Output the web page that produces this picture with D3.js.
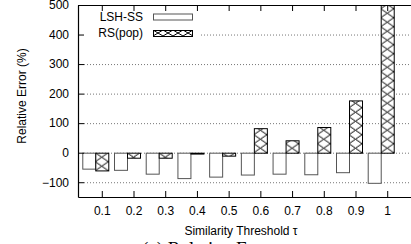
<!DOCTYPE html>
<html>
<head>
<meta charset="utf-8">
<script src="https://cdn.jsdelivr.net/npm/d3@7"></script>
<style>
  body { margin: 0; background: #fff; }
  svg text { font-family: "Liberation Sans", Arial, Helvetica, sans-serif; }
</style>
</head>
<body>
<div id="chart"></div>
<script>
// thresholds and the two series (relative error in %)
const thresholds = [0.1, 0.2, 0.3, 0.4, 0.5, 0.6, 0.7, 0.8, 0.9, 1];
const lshSS = [-54, -58, -71, -86, -81, -74, -71, -73, -66, -102];
const rsPop = [-60, -17, -17, -3, -10, 83, 42, 87, 177, 500];
const yTicks = [-100, 0, 100, 200, 300, 400, 500];
const seriesNames = ["LSH-SS", "RS(pop)"];

const W = 411, H = 244;
const margin = { top: 5, right: 0, bottom: 47, left: 78 };

const svg = d3.select("#chart")
  .append("svg")
  .attr("width", W)
  .attr("height", H);

const x = d3.scaleLinear()
  .domain([0.025, 1.075])
  .range([margin.left, W - margin.right]);

const y = d3.scaleLinear()
  .domain([-150, 500])
  .range([H - margin.bottom, margin.top]);

const barW = 13;
const defs = svg.append("defs");

// crosshatch pattern, one per bar so the X's line up with each bar
function hatch(id, px, py, w, h) {
  const p = defs.append("pattern")
    .attr("id", id)
    .attr("patternUnits", "userSpaceOnUse")
    .attr("x", px).attr("y", py)
    .attr("width", w).attr("height", h);
  p.append("rect").attr("width", w).attr("height", h).attr("fill", "#fff");
  p.append("path")
    .attr("d", `M0,0L${w},${h}M${w},0L0,${h}`)
    .attr("stroke", "#000")
    .attr("stroke-width", 1)
    .attr("fill", "none");
}

// grid lines
svg.append("g")
  .selectAll("line")
  .data(yTicks.filter(d => d < 500))
  .join("line")
  .attr("x1", margin.left + 6)
  .attr("x2", W)
  .attr("y1", d => y(d) + 0.5)
  .attr("y2", d => y(d) + 0.5)
  .attr("stroke", "#777")
  .attr("stroke-width", 1)
  .attr("stroke-dasharray", "1,2");

// LSH-SS bars
svg.append("g")
  .selectAll("rect")
  .data(thresholds)
  .join("rect")
  .attr("x", d => x(d) - barW * 1.5 + 0.5)
  .attr("width", barW)
  .attr("y", (d, i) => Math.min(y(0), y(lshSS[i])) + 0.5)
  .attr("height", (d, i) => Math.abs(y(lshSS[i]) - y(0)))
  .attr("fill", "#fff")
  .attr("stroke", "#555")
  .attr("stroke-width", 1);

// RS(pop) bars
thresholds.forEach((d, i) => {
  hatch("h" + i, x(d) - barW / 2, y(0), barW, 9);
});
svg.append("g")
  .selectAll("rect")
  .data(thresholds)
  .join("rect")
  .attr("x", d => x(d) - barW / 2 + 0.5)
  .attr("width", barW)
  .attr("y", (d, i) => Math.min(y(0), y(rsPop[i])) + 0.5)
  .attr("height", (d, i) => Math.abs(y(rsPop[i]) - y(0)))
  .attr("fill", (d, i) => `url(#h${i})`)
  .attr("stroke", "#000")
  .attr("stroke-width", 1);

// legend
const lg = svg.append("g");
lg.append("rect")
  .attr("x", margin.left + 1).attr("y", margin.top + 2)
  .attr("width", 120).attr("height", 36)
  .attr("fill", "#fff");
hatch("hleg", 153, 30, 10, 6);
seriesNames.forEach((name, i) => {
  const cy = 16.5 + i * 16.5;
  lg.append("text")
    .attr("x", 143).attr("y", cy + 4.3)
    .attr("text-anchor", "end")
    .attr("font-size", 12)
    .text(name);
  lg.append("rect")
    .attr("x", 153.5).attr("y", cy - 3 + 0.5)
    .attr("width", 39).attr("height", 6)
    .attr("fill", i === 0 ? "#fff" : "url(#hleg)")
    .attr("stroke", i === 0 ? "#555" : "#000");
});

// axes (ticks drawn inward, gnuplot style)
const yAxis = svg.append("g")
  .attr("transform", `translate(${margin.left},0)`)
  .call(d3.axisLeft(y).tickValues(yTicks).tickSizeInner(-6).tickSizeOuter(0).tickPadding(9));
const xAxis = svg.append("g")
  .attr("transform", `translate(0,${H - margin.bottom})`)
  .call(d3.axisBottom(x).tickValues(thresholds).tickSizeInner(-6).tickSizeOuter(0).tickPadding(9)
    .tickFormat(d => d === 1 ? "1" : d3.format(".1f")(d)));
const xTop = svg.append("g")
  .attr("transform", `translate(0,${margin.top})`)
  .call(d3.axisTop(x).tickValues(thresholds).tickSizeInner(-6).tickSizeOuter(0).tickFormat(""));

[yAxis, xAxis, xTop].forEach(g => {
  g.select(".domain").attr("stroke", "#000").attr("stroke-width", 1.2);
  g.selectAll("text").attr("font-size", 12).attr("fill", "#000")
    .style("font-family", "'Liberation Sans', Arial, sans-serif");
});

// titles
svg.append("text")
  .attr("transform", `translate(26,96) rotate(-90)`)
  .attr("text-anchor", "middle")
  .attr("font-size", 12)
  .text("Relative Error (%)");

svg.append("text")
  .attr("x", 241).attr("y", 235)
  .attr("text-anchor", "middle")
  .attr("font-size", 12)
  .text("Similarity Threshold τ");

// caption, clipped by the bottom edge
svg.append("text")
  .attr("x", 142).attr("y", 255)
  .style("font-family", "'Liberation Serif', 'Times New Roman', serif")
  .attr("font-size", 19)
  .text("(a) Relative Error");
</script>
</body>
</html>
